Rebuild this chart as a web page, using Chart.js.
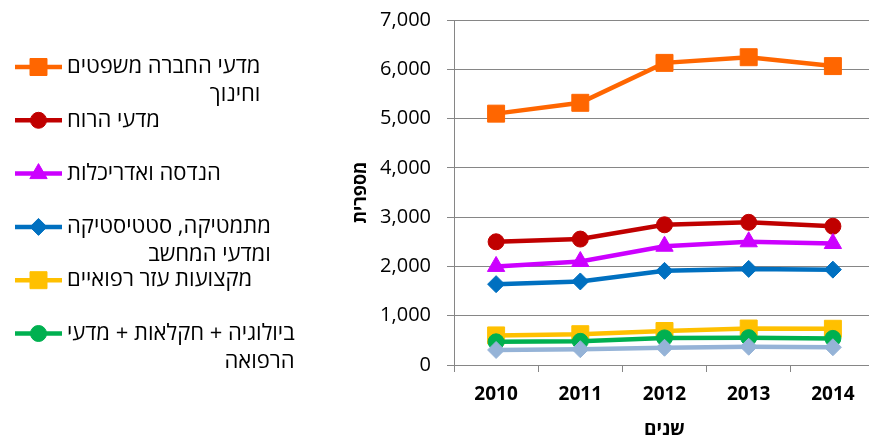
<!DOCTYPE html>
<html lang="he">
<head>
<meta charset="utf-8">
<script src="https://cdn.jsdelivr.net/npm/chart.js@4/dist/chart.umd.min.js"></script>
<style>
  html, body { margin: 0; padding: 0; background: #fff; overflow: hidden; }
  #wrap { position: relative; width: 888px; height: 441px; }
</style>
</head>
<body>
<div id="wrap"><canvas id="chart"></canvas></div>
<script>
// data
const years = ['2010', '2011', '2012', '2013', '2014'];
const seriesNames = [
  ['מדעי החברה משפטים', 'וחינוך'],
  ['מדעי הרוח'],
  ['הנדסה ואדריכלות'],
  ['מתמטיקה, סטטיסטיקה', 'ומדעי המחשב'],
  ['מקצועות עזר רפואיים'],
  ['ביולוגיה + חקלאות + מדעי', 'הרפואה'],
  [] // 7th series, its legend entry is cut off in the original
];
const socialSci   = [5100, 5320, 6130, 6245, 6065];
const humanities  = [2500, 2555, 2845, 2895, 2815];
const engineering = [2000, 2100, 2410, 2500, 2465];
const mathCs      = [1640, 1695, 1910, 1950, 1935];
const paramedical = [600, 625, 690, 740, 735];
const biology     = [470, 480, 550, 555, 540];
const otherField  = [305, 320, 350, 370, 360];
const yTicks = [0, 1000, 2000, 3000, 4000, 5000, 6000, 7000];

const seriesValues = [socialSci, humanities, engineering, mathCs, paramedical, biology, otherField];
const colors = ['#FF6600', '#C00000', '#CC00FF', '#0070C0', '#FFC000', '#00B050', '#95B3D7'];
const markers = ['rect', 'circle', 'triangle', 'rectRot', 'rect', 'circle', 'rectRot'];
const radii = [12, 8, 10, 8.5, 12, 8, 8.5];

const FONT = '"Open Sans", "DejaVu Sans", sans-serif';

const datasets = seriesValues.map((vals, i) => ({
  label: seriesNames[i].join(' '),
  data: vals,
  borderColor: colors[i],
  backgroundColor: colors[i],
  pointBackgroundColor: colors[i],
  pointBorderColor: colors[i],
  pointStyle: markers[i],
  pointRadius: radii[i],
  pointBorderWidth: 1,
  borderWidth: 4.5,
  tension: 0,
  order: seriesValues.length - i
}));

/* ========= Legend on the left side ========= */
const sideLegend = {
  id: 'sideLegend',
  afterDraw(chart) {
    const ctx = chart.ctx;
    ctx.save();
    ctx.font = '22px ' + FONT;
    ctx.textBaseline = 'middle';
    ctx.textAlign = 'right';
    ctx.direction = 'rtl';
    chart.data.datasets.forEach((ds, i) => {
      const lines = seriesNames[i];
      if (!lines.length) return;
      const y = 67 + i * 53.3;
      ctx.strokeStyle = ds.borderColor;
      ctx.lineWidth = 4.5;
      ctx.beginPath();
      ctx.moveTo(15, y);
      ctx.lineTo(62, y);
      ctx.stroke();
      ctx.fillStyle = ds.backgroundColor;
      ctx.lineWidth = 1;
      Chart.helpers.drawPoint(ctx, { pointStyle: ds.pointStyle, radius: ds.pointRadius, borderWidth: 1, rotation: 0 }, 38.5, y);
      const w = Math.max(...lines.map(l => ctx.measureText(l).width));
      ctx.fillStyle = '#000';
      lines.forEach((l, j) => ctx.fillText(l, 67 + w, y + j * 28));
    });
    ctx.restore();
  }
};

new Chart(document.getElementById('chart'), {
  type: 'line',
  data: { labels: years, datasets },
  plugins: [sideLegend],
  options: {
    responsive: true,
    maintainAspectRatio: false,
    animation: false,
    layout: { padding: { left: 350, top: 20, right: 1, bottom: 0 } },
    plugins: {
      legend: { display: false },
      tooltip: { enabled: false }
    },
    scales: {
      x: {
        offset: true,
        grid: { offset: true, drawOnChartArea: false, drawTicks: true, tickLength: 7, color: '#868686' },
        border: { color: '#868686', width: 1 },
        ticks: { color: '#000', padding: 11, font: { family: FONT, size: 19, weight: 'bold' } },
        title: { display: true, text: 'שנים', color: '#000', padding: { top: 4, bottom: 0 }, font: { family: FONT, size: 19, weight: 'bold' } },
        afterFit(scale) { scale.height = 76; scale.paddingLeft = 0; scale.paddingRight = 0; }
      },
      y: {
        min: 0,
        max: 7000,
        afterBuildTicks(scale) { scale.ticks = yTicks.map(v => ({ value: v })); },
        grid: { color: '#868686', tickLength: 7, drawTicks: true },
        border: { color: '#868686', width: 1 },
        ticks: {
          color: '#000',
          padding: 16,
          font: { family: FONT, size: 20 },
          callback: v => v.toLocaleString('en-US')
        },
        title: { display: true, text: 'מספרית', color: '#000', padding: { top: 0, bottom: 0 }, font: { family: FONT, size: 18, weight: 'bold' } },
        afterFit(scale) { scale.width = 104; scale.paddingTop = 0; scale.paddingBottom = 0; }
      }
    }
  }
});
</script>
</body>
</html>
